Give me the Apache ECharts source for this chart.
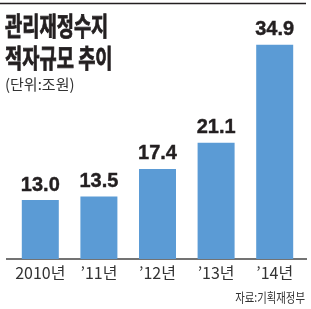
<!DOCTYPE html>
<html>
<head>
<meta charset="utf-8">
<script src="https://cdn.jsdelivr.net/npm/echarts@6/dist/echarts.min.js"></script>
<style>
  html, body { margin: 0; padding: 0; background: #fff; }
  #chart { width: 311px; height: 309px; }
</style>
</head>
<body>
<div id="chart"></div>
<script>
// 연도 / 관리재정수지 적자규모 (조원)
var years = ['2010년', '\u201911년', '\u201912년', '\u201913년', '\u201914년'];
var deficit = [13.0, 13.5, 17.4, 21.1, 34.9];

var titleLines = ['관리재정수지', '적자규모 추이'];
var unitText = '(단위:조원)';
var sourceText = '자료:기획재정부';

var KR = '"Noto Sans CJK KR", "Noto Sans", sans-serif';
var ink = '#231f20';

var chart = echarts.init(document.getElementById('chart'), null, { renderer: 'canvas' });

chart.setOption({
    animation: false,
    grid: { left: 11, right: 7, top: 44, bottom: 50 },
    xAxis: {
        type: 'category',
        data: years,
        axisLine: { show: false },
        axisTick: { show: false },
        axisLabel: {
            interval: 0,
            margin: 6,
            color: '#333',
            fontFamily: KR,
            fontSize: 16
        }
    },
    yAxis: {
        type: 'value',
        min: 4.7,
        max: 35,
        show: false,
        splitLine: { show: false }
    },
    series: [
        {
            type: 'bar',
            data: deficit,
            barWidth: 37,
            itemStyle: { color: '#5b9bd5' },
            label: {
                show: true,
                position: 'top',
                distance: 5,
                color: ink,
                fontFamily: '"Liberation Sans", Arial, sans-serif',
                fontWeight: 'bold',
                fontSize: 20,
                textBorderColor: ink,
                textBorderWidth: 0.4,
                formatter: function (p) { return p.value.toFixed(1); }
            }
        }
    ],
    graphic: [
        // 상단 괘선
        { type: 'line', shape: { x1: 0, y1: 3.5, x2: 306, y2: 3.5 }, style: { stroke: ink, lineWidth: 1.5 } },
        // 기준선
        { type: 'line', shape: { x1: 6, y1: 259, x2: 307, y2: 259 }, style: { stroke: '#444', lineWidth: 1.5 } },
        {
            type: 'text', x: 5, y: 26.5, scaleX: 0.72,
            style: { text: titleLines[0], fill: ink, stroke: ink, lineWidth: 0.8, font: 'bold 26px ' + KR, textVerticalAlign: 'middle' }
        },
        {
            type: 'text', x: 5, y: 58.5, scaleX: 0.72,
            style: { text: titleLines[1], fill: ink, stroke: ink, lineWidth: 0.8, font: 'bold 26px ' + KR, textVerticalAlign: 'middle' }
        },
        {
            type: 'text', x: 5, y: 84,
            style: { text: unitText, fill: '#333', font: '15px ' + KR, textVerticalAlign: 'middle' }
        },
        {
            type: 'text', x: 305, y: 297.5, scaleX: 0.8,
            style: { text: sourceText, fill: '#333', font: '13px ' + KR, textAlign: 'right', textVerticalAlign: 'middle' }
        }
    ]
});
</script>
</body>
</html>
